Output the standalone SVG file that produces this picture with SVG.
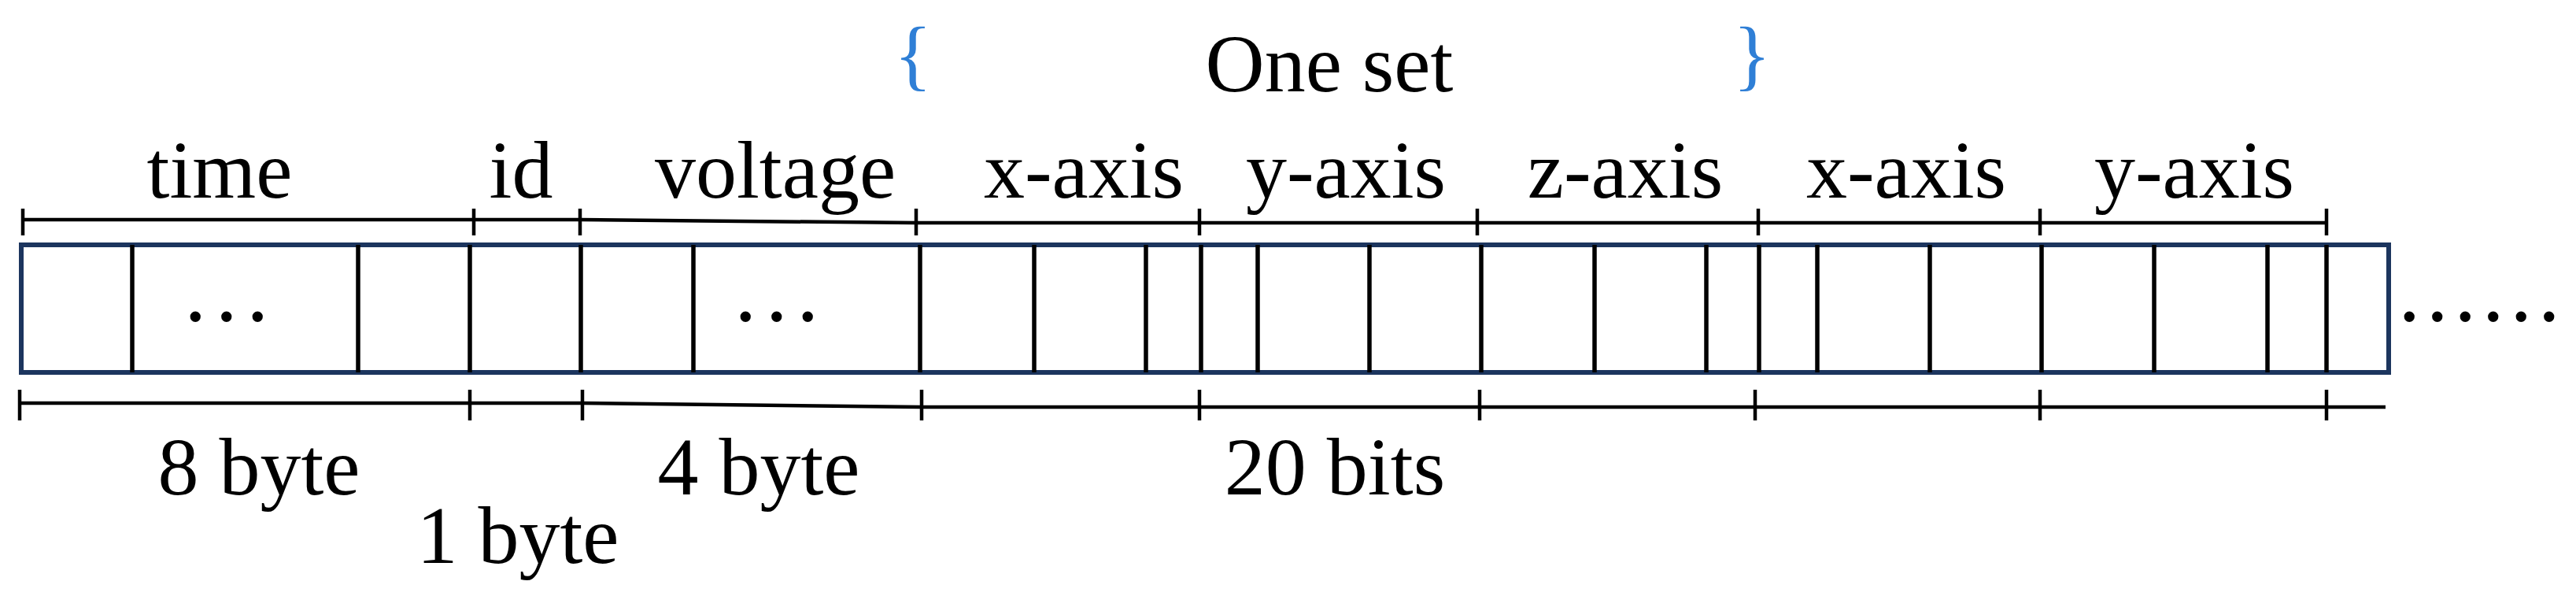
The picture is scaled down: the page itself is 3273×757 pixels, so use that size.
<svg xmlns="http://www.w3.org/2000/svg" width="3273" height="757" viewBox="0 0 3273 757">
<style>
text{font-family:"Liberation Serif","Times New Roman",serif;font-size:104px;fill:#000;text-anchor:middle}
.brace{fill:#2f7fd6;font-size:100px}
.dots{font-size:82px;font-weight:bold;text-anchor:start}
.box{fill:#fff;stroke:#1c355e;stroke-width:6}
.div{stroke:#000;stroke-width:5.5}
.dim{stroke:#000;stroke-width:4.5;fill:none}
</style>
<rect width="3273" height="757" fill="#fff"/>
<g id="header">
<text class="brace" x="1160" y="103">{</text>
<text x="1689" y="116">One set</text>
<text class="brace" x="2226" y="103">}</text>
</g>
<g id="labels-top">
<text x="279" y="251">time</text>
<text x="662" y="251">id</text>
<text x="985" y="251">voltage</text>
<text x="1377" y="251">x-axis</text>
<text x="1710" y="251">y-axis</text>
<text x="2065" y="251">z-axis</text>
<text x="2422" y="251">x-axis</text>
<text x="2788" y="251">y-axis</text>
</g>
<g id="record">
<rect class="box" x="27" y="311" width="3008" height="162"/>
<g class="div">
<line x1="168" y1="311" x2="168" y2="473"/>
<line x1="455" y1="311" x2="455" y2="473"/>
<line x1="597" y1="311" x2="597" y2="473"/>
<line x1="738" y1="311" x2="738" y2="473"/>
<line x1="881" y1="311" x2="881" y2="473"/>
<line x1="1169" y1="311" x2="1169" y2="473"/>
<line x1="1314" y1="311" x2="1314" y2="473"/>
<line x1="1456" y1="311" x2="1456" y2="473"/>
<line x1="1526" y1="311" x2="1526" y2="473"/>
<line x1="1598" y1="311" x2="1598" y2="473"/>
<line x1="1740" y1="311" x2="1740" y2="473"/>
<line x1="1882" y1="311" x2="1882" y2="473"/>
<line x1="2026" y1="311" x2="2026" y2="473"/>
<line x1="2168" y1="311" x2="2168" y2="473"/>
<line x1="2235" y1="311" x2="2235" y2="473"/>
<line x1="2309" y1="311" x2="2309" y2="473"/>
<line x1="2452" y1="311" x2="2452" y2="473"/>
<line x1="2594" y1="311" x2="2594" y2="473"/>
<line x1="2737" y1="311" x2="2737" y2="473"/>
<line x1="2881" y1="311" x2="2881" y2="473"/>
<line x1="2956" y1="311" x2="2956" y2="473"/>
</g>
<text class="dots" x="238" y="408" letter-spacing="19">...</text>
<text class="dots" x="937" y="408" letter-spacing="19">...</text>
<text class="dots" x="3051" y="408" letter-spacing="15">......</text>
</g>
<g id="connectors">
<path class="dim" d="M29 279H737L1164 283H2956"/>
<path class="dim" d="M29 265V299M602 265V299M737 265V299M1164 265V299M1524 265V299M1877 265V299M2234 265V299M2592 265V299M2956 265V299"/>
<path class="dim" d="M25 512H740L1171 517H3031"/>
<path class="dim" d="M25 495V534M597 495V534M740 495V534M1171 495V534M1524 495V534M1880 495V534M2230 495V534M2592 495V534M2956 495V534"/>
</g>
<g id="labels-bottom">
<text x="329" y="628">8 byte</text>
<text x="964" y="628">4 byte</text>
<text x="1696" y="628">20 bits</text>
<text x="658" y="715">1 byte</text>
</g>
</svg>
